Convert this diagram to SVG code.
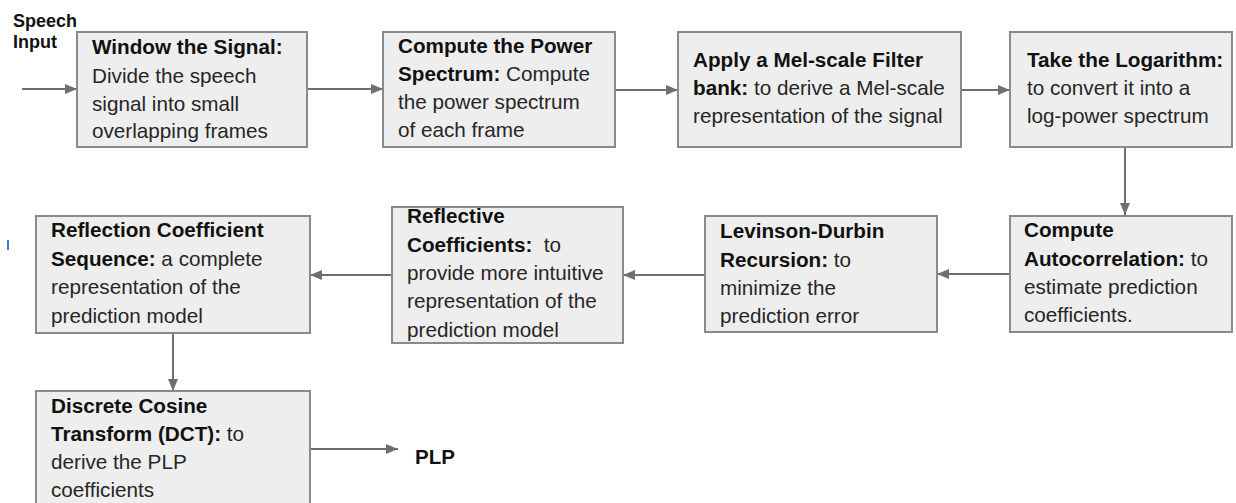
<svg xmlns="http://www.w3.org/2000/svg" width="1236" height="503" viewBox="0 0 1236 503">
  <defs>
    <marker id="ah" markerUnits="userSpaceOnUse" markerWidth="13" markerHeight="11" refX="12" refY="5" orient="auto">
      <path d="M0,0 L12,5 L0,10 z" fill="#6f6f6f"/>
    </marker>
    <style>
      .box { fill: #eeeeee; stroke: #8a8a8a; stroke-width: 2; }
      .t { font-family: "Liberation Sans", Arial, sans-serif; font-size: 20.7px; fill: #262626; }
      .b { font-weight: bold; fill: #111111; }
      .lbl { font-family: "Liberation Sans", Arial, sans-serif; font-weight: bold; fill: #111111; }
      .c { stroke: #6f6f6f; stroke-width: 2; fill: none; marker-end: url(#ah); }
    </style>
  </defs>
  <rect width="1236" height="503" fill="#ffffff"/>

  <g id="labels">
    <text class="lbl" font-size="18" x="13" y="27">Speech</text>
    <text class="lbl" font-size="18" x="13" y="48">Input</text>
    <text class="lbl" font-size="20.5" x="415" y="464">PLP</text>
    <rect x="7" y="240" width="2" height="10" fill="#3d7fd9"/>
  </g>

  <g id="connectors">
    <path class="c" d="M22,89 L77,89"/>
    <path class="c" d="M307,89 L383,89"/>
    <path class="c" d="M615,90 L678,90"/>
    <path class="c" d="M961,90 L1010,90"/>
    <path class="c" d="M1125,147 L1125,215"/>
    <path class="c" d="M1010,274 L937,274"/>
    <path class="c" d="M705,275 L623,275"/>
    <path class="c" d="M392,275 L310,275"/>
    <path class="c" d="M173,333 L173,391"/>
    <path class="c" d="M310,449 L398,449"/>
  </g>

  <g id="n1">
    <rect class="box" x="77" y="32" width="230" height="115"/>
    <text class="t" x="92"><tspan class="b" y="54">Window the Signal:</tspan><tspan x="92" y="82.5">Divide the speech</tspan><tspan x="92" y="110.5">signal into small</tspan><tspan x="92" y="138">overlapping frames</tspan></text>
  </g>

  <g id="n2">
    <rect class="box" x="383" y="32" width="232" height="115"/>
    <text class="t" x="398"><tspan class="b" y="53">Compute the Power</tspan><tspan x="398" y="81"><tspan class="b">Spectrum:</tspan> Compute</tspan><tspan x="398" y="109">the power spectrum</tspan><tspan x="398" y="137">of each frame</tspan></text>
  </g>

  <g id="n3">
    <rect class="box" x="678" y="32" width="283" height="115"/>
    <text class="t" x="693"><tspan class="b" y="66.5">Apply a Mel-scale Filter</tspan><tspan x="693" y="95"><tspan class="b">bank:</tspan> to derive a Mel-scale</tspan><tspan x="693" y="123">representation of the signal</tspan></text>
  </g>

  <g id="n4">
    <rect class="box" x="1010" y="32" width="222" height="115"/>
    <text class="t" x="1027"><tspan class="b" y="66.5">Take the Logarithm:</tspan><tspan x="1027" y="95">to convert it into a</tspan><tspan x="1027" y="123">log-power spectrum</tspan></text>
  </g>

  <g id="n5">
    <rect class="box" x="1010" y="216" width="222" height="116"/>
    <text class="t" x="1024"><tspan class="b" y="237">Compute</tspan><tspan x="1024" y="265.5"><tspan class="b">Autocorrelation:</tspan> to</tspan><tspan x="1024" y="294">estimate prediction</tspan><tspan x="1024" y="322">coefficients.</tspan></text>
  </g>

  <g id="n6">
    <rect class="box" x="705" y="216" width="232" height="116"/>
    <text class="t" x="720"><tspan class="b" y="238">Levinson-Durbin</tspan><tspan x="720" y="266.5"><tspan class="b">Recursion:</tspan> to</tspan><tspan x="720" y="295">minimize the</tspan><tspan x="720" y="323">prediction error</tspan></text>
  </g>

  <g id="n7">
    <rect class="box" x="392" y="207" width="231" height="136"/>
    <text class="t" x="407"><tspan class="b" y="223">Reflective</tspan><tspan x="407" y="251.5" style="white-space:pre"><tspan class="b">Coefficients:</tspan>  to</tspan><tspan x="407" y="280">provide more intuitive</tspan><tspan x="407" y="308">representation of the</tspan><tspan x="407" y="336.5">prediction model</tspan></text>
  </g>

  <g id="n8">
    <rect class="box" x="36" y="216" width="274" height="117"/>
    <text class="t" x="51"><tspan class="b" y="237">Reflection Coefficient</tspan><tspan x="51" y="266"><tspan class="b">Sequence:</tspan> a complete</tspan><tspan x="51" y="294">representation of the</tspan><tspan x="51" y="322.5">prediction model</tspan></text>
  </g>

  <g id="n9">
    <rect class="box" x="36" y="391" width="274" height="125"/>
    <text class="t" x="51"><tspan class="b" y="412.5">Discrete Cosine</tspan><tspan x="51" y="441"><tspan class="b">Transform (DCT):</tspan> to</tspan><tspan x="51" y="468.5">derive the PLP</tspan><tspan x="51" y="496.5">coefficients</tspan></text>
  </g>
</svg>
